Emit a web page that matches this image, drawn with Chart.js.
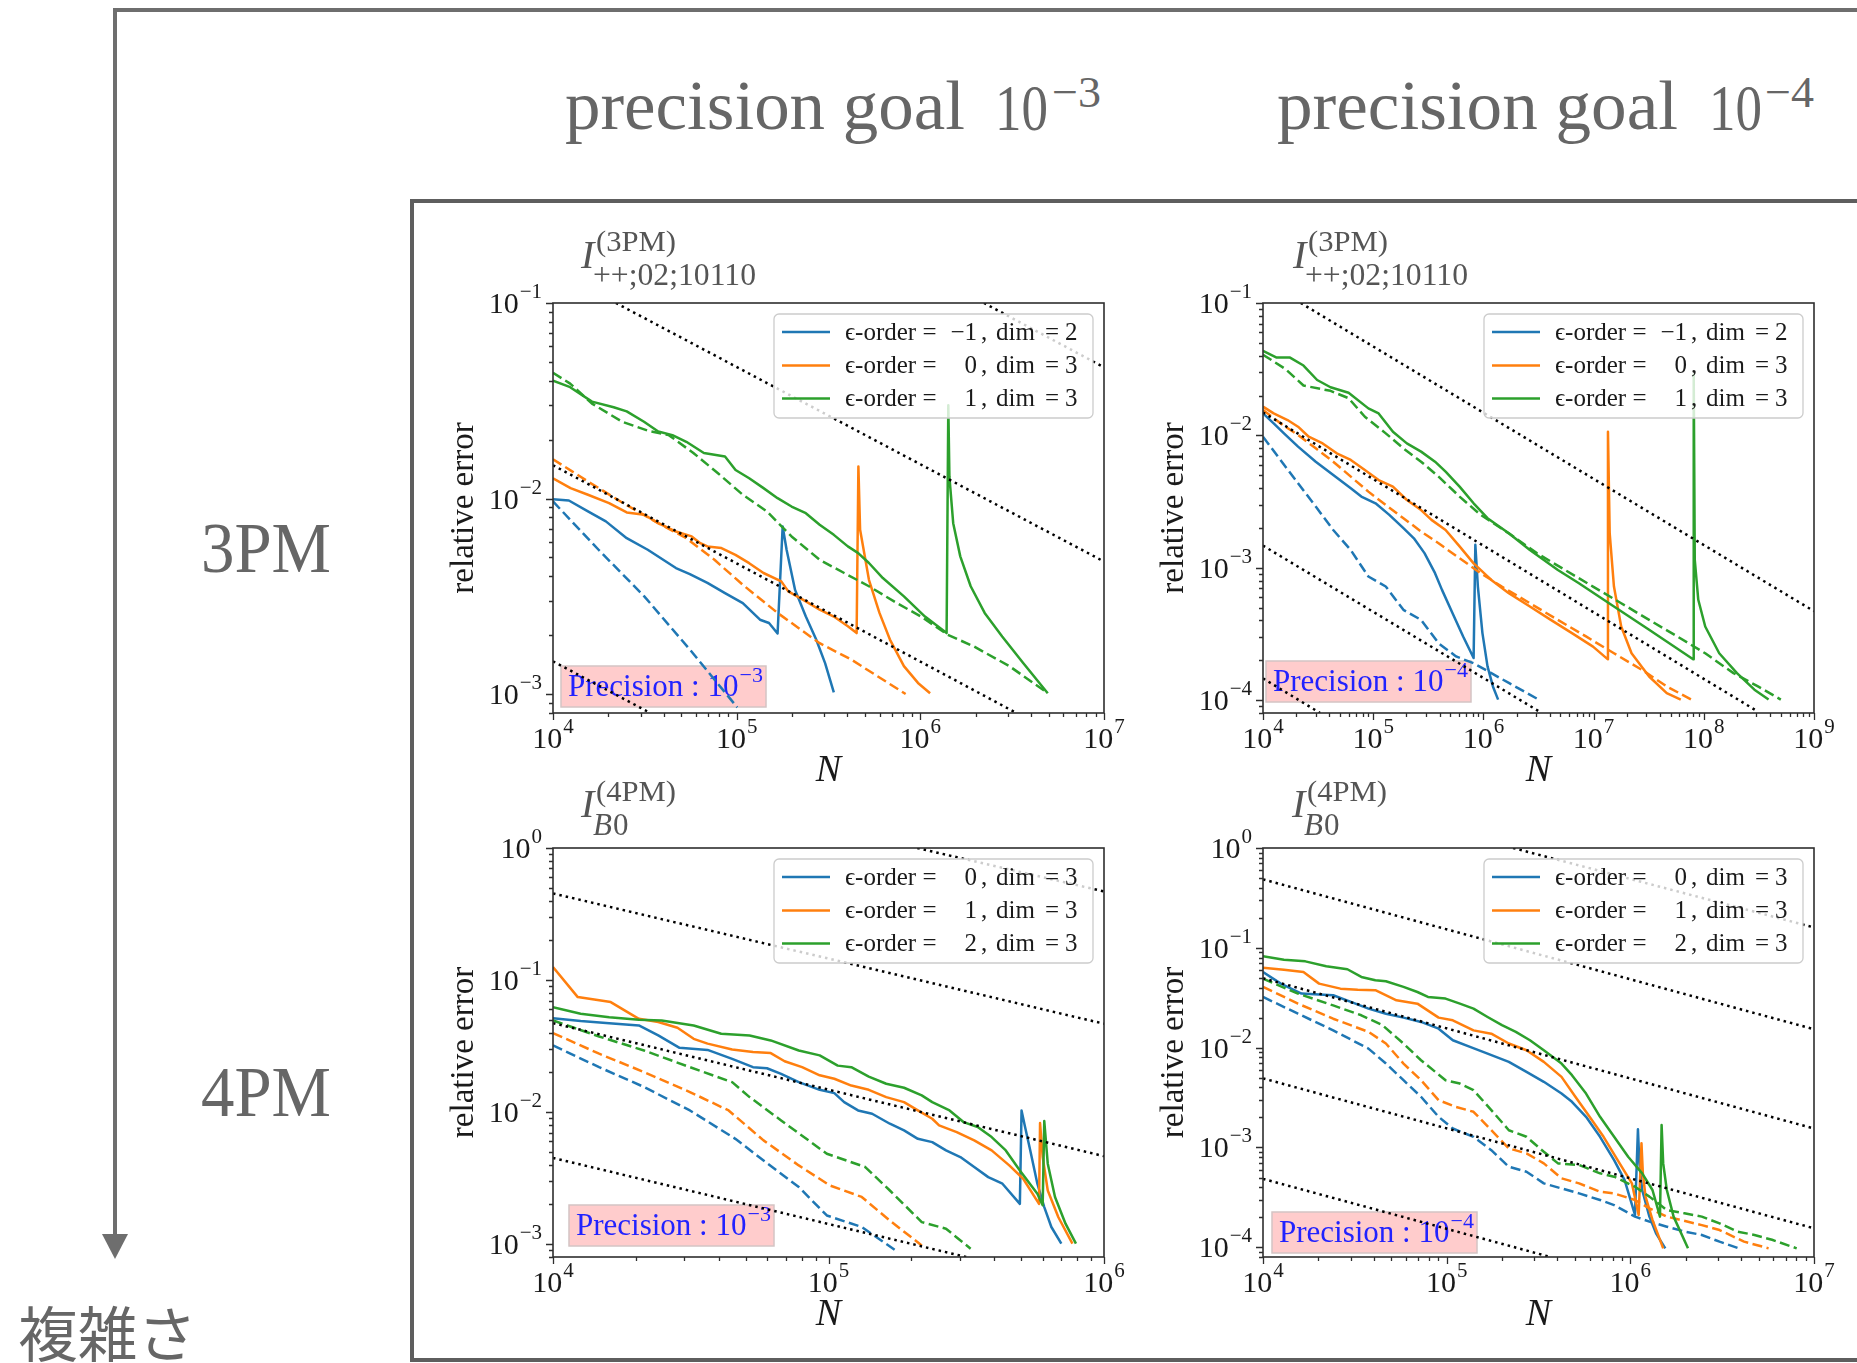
<!DOCTYPE html>
<html>
<head>
<meta charset="utf-8">
<title>precision goal</title>
<script src="https://cdn.jsdelivr.net/npm/chart.js@4.4.1/dist/chart.umd.min.js"></script>
<style>
  html, body { margin: 0; padding: 0; background: #fff; }
  body { position: relative; width: 1857px; height: 1363px; overflow: hidden; }
  .bar { position: absolute; background: #6e6e6e; }
  .txt { position: absolute; white-space: nowrap; transform-origin: 0 0; }
  canvas { position: absolute; }
</style>
</head>
<body>
<div class="bar" style="left:113px;top:8px;width:1744px;height:4px"></div>
<div class="bar" style="left:113px;top:8px;width:4px;height:1232px"></div>
<div style="position:absolute;left:102px;top:1234px;width:0;height:0;border-left:13px solid transparent;border-right:13px solid transparent;border-top:25px solid #6e6e6e"></div>
<div style="position:absolute;left:410px;top:199px;width:1500px;height:1155px;border:4px solid #5e5e5e"></div>

<canvas id="tl" width="690" height="570" style="left:440px;top:225px"></canvas>
<canvas id="tr" width="690" height="570" style="left:1150px;top:225px"></canvas>
<canvas id="bl" width="690" height="569" style="left:440px;top:770px"></canvas>
<canvas id="br" width="690" height="569" style="left:1150px;top:770px"></canvas>

<script>
// ---------- data: [N, relative error] ----------
// 3PM, precision goal 1e-3
const tlBlue = [[1e4,9.93e-3],[1.22e4,9.77e-3],[1.55e4,8.59e-3],[1.94e4,7.64e-3],[2.52e4,6.27e-3],[3.28e4,5.47e-3],[4.67e4,4.41e-3],[5.56e4,4.11e-3],[6.93e4,3.70e-3],[8.64e4,3.28e-3],[1.08e5,2.92e-3],[1.34e5,2.40e-3],[1.50e5,2.31e-3],[1.67e5,2.04e-3],[1.78e5,7.19e-3],[1.87e5,5.47e-3],[2.08e5,3.41e-3],[2.38e5,2.49e-3],[2.71e5,1.90e-3],[3.03e5,1.44e-3],[3.38e5,1.02e-3]];
const tlBlueD = [[1e4,9.66e-3],[1.77e4,5.47e-3],[3.14e4,3.16e-3],[5.56e4,1.69e-3],[1.007e5,8.55e-4]];
const tlOrange = [[1e4,0.0127],[1.246e4,0.0113],[1.55e4,0.01045],[2.02e4,9.47e-3],[2.52e4,8.49e-3],[3.14e4,8.26e-3],[3.74e4,7.49e-3],[4.67e4,6.78e-3],[5.69e4,6.40e-3],[6.34e4,5.91e-3],[6.93e4,5.69e-3],[8.26e4,5.58e-3],[9.85e4,5.15e-3],[1.17e5,4.67e-3],[1.40e5,4.16e-3],[1.75e5,3.77e-3],[1.91e5,3.35e-3],[2.38e5,2.98e-3],[2.83e5,2.70e-3],[3.38e5,2.49e-3],[4.03e5,2.22e-3],[4.50e5,2.05e-3],[4.60e5,0.01459],[4.70e5,6.92e-3],[5.25e5,3.84e-3],[5.99e5,2.60e-3],[6.83e5,1.90e-3],[8.14e5,1.39e-3],[9.71e5,1.14e-3],[1.13e6,1.01e-3]];
const tlOrangeD = [[1e4,0.01589],[1.55e4,0.01222],[2.41e4,9.47e-3],[3.74e4,7.49e-3],[5.32e4,6.27e-3],[7.57e4,4.86e-3],[1.08e5,3.62e-3],[1.67e5,2.60e-3],[2.83e5,1.82e-3],[4.21e5,1.50e-3],[8.32e5,1.00e-3]];
const tlGreen = [[1e4,0.0401],[1.24e4,0.0371],[1.63e4,0.0313],[2.14e4,0.0293],[2.52e4,0.0279],[3.13e4,0.0247],[3.74e4,0.0220],[4.47e4,0.0211],[5.32e4,0.0195],[6.63e4,0.0171],[8.64e4,0.0164],[9.86e4,0.0140],[1.17e5,0.0127],[1.40e5,0.0113],[1.67e5,0.01004],[1.99e5,9.10e-3],[2.38e5,8.41e-3],[2.83e5,7.34e-3],[3.38e5,6.52e-3],[4.03e5,5.69e-3],[4.59e5,5.26e-3],[5.25e5,4.68e-3],[6.25e5,3.92e-3],[8.14e5,3.16e-3],[1.06e6,2.49e-3],[1.39e6,2.05e-3],[1.42e6,0.0300],[1.44e6,0.0129],[1.51e6,7.48e-3],[1.65e6,5.06e-3],[1.88e6,3.56e-3],[2.24e6,2.60e-3],[2.79e6,1.97e-3],[3.63e6,1.44e-3],[4.94e6,1.01e-3]];
const tlGreenD = [[1e4,0.0440],[1.24e4,0.0387],[1.63e4,0.0306],[2.38e4,0.0247],[3.30e4,0.0222],[4.27e4,0.0211],[5.81e4,0.0171],[7.91e4,0.01346],[1.08e5,0.01045],[1.46e5,8.59e-3],[1.99e5,6.40e-3],[2.83e5,4.86e-3],[3.85e5,4.16e-3],[5.25e5,3.56e-3],[7.45e5,2.92e-3],[1.01e6,2.49e-3],[1.41e6,2.01e-3],[1.96e6,1.75e-3],[3.05e6,1.39e-3],[4.94e6,1.01e-3]];
const tlGuides = [[[2.22e6,0.1],[1e7,0.0469]],[[2.2e4,0.1],[1e7,4.76e-3]],[[1e4,0.0148],[3.34e6,8e-4]],[[1e4,1.47e-3],[3.39e4,8e-4]]];

// 3PM, precision goal 1e-4
const trBlue = [[1e4,0.01466],[1.25e4,0.01233],[1.55e4,0.01036],[2.08e4,8.22e-3],[3.01e4,6.33e-3],[4.34e4,5.03e-3],[6.26e4,3.98e-3],[7.80e4,3.45e-3],[1.05e5,3.07e-3],[1.40e5,2.51e-3],[1.88e5,1.99e-3],[2.34e5,1.67e-3],[2.92e5,1.29e-3],[3.64e5,9.10e-4],[4.21e5,6.81e-4],[5.25e5,4.54e-4],[6.55e5,3.03e-4],[8.15e5,2.08e-4],[8.45e5,1.49e-3],[8.91e5,7.21e-4],[9.80e5,3.21e-4],[1.09e6,1.80e-4],[1.22e6,1.27e-4],[1.36e6,1.01e-4]];
const trBlueD = [[1e4,9.77e-3],[1.44e4,6.52e-3],[2.08e4,4.35e-3],[3.01e4,2.90e-3],[4.34e4,1.93e-3],[6.26e4,1.36e-3],[9.04e4,8.59e-4],[1.30e5,7.22e-4],[1.88e5,4.81e-4],[2.72e5,4.04e-4],[3.92e5,2.69e-4],[5.65e5,2.14e-4],[8.15e5,1.90e-4],[1.18e6,1.60e-4],[1.70e6,1.35e-4],[3.17e6,1.01e-4]];
const trOrange = [[1e4,0.01648],[1.25e4,0.01466],[1.67e4,0.01306],[2.08e4,0.01163],[2.60e4,9.77e-3],[3.48e4,8.70e-3],[4.67e4,7.32e-3],[6.26e4,6.52e-3],[8.40e4,5.48e-3],[1.12e5,4.60e-3],[1.51e5,4.10e-3],[2.02e5,3.25e-3],[2.72e5,2.73e-3],[3.38e5,2.30e-3],[4.54e5,1.93e-3],[6.08e5,1.45e-3],[8.15e5,1.08e-3],[1.18e6,8.10e-4],[1.70e6,6.43e-4],[2.64e6,5.10e-4],[4.09e6,4.04e-4],[6.36e6,3.21e-4],[9.88e6,2.54e-4],[1.34e7,2.04e-4],[1.35e7,0.01067],[1.40e7,1.82e-3],[1.53e7,7.21e-4],[1.78e7,3.60e-4],[2.21e7,2.26e-4],[3.19e7,1.51e-4],[4.61e7,1.13e-4],[6.18e7,1.01e-4]];
const trOrangeD = [[1e4,0.01556],[1.44e4,0.01233],[2.08e4,0.01006],[3.01e4,7.98e-3],[4.34e4,6.33e-3],[6.26e4,4.88e-3],[9.04e4,3.76e-3],[1.30e5,2.98e-3],[1.88e5,2.37e-3],[2.72e5,1.88e-3],[3.92e5,1.53e-3],[6.08e5,1.18e-3],[9.44e5,9.10e-4],[1.47e6,7.21e-4],[2.64e6,5.40e-4],[4.74e6,4.04e-4],[8.53e6,3.03e-4],[1.53e7,2.26e-4],[2.76e7,1.69e-4],[4.61e7,1.27e-4],[7.71e7,1.01e-4]];
const trGreen = [[1e4,0.0435],[1.33e4,0.0387],[1.76e4,0.0387],[2.33e4,0.0337],[3.10e4,0.0262],[4.10e4,0.0231],[5.98e4,0.0210],[9.04e4,0.0160],[1.12e5,0.01466],[1.51e5,0.01066],[2.02e5,8.70e-3],[2.72e5,7.54e-3],[3.64e5,6.33e-3],[4.54e5,5.32e-3],[6.08e5,4.10e-3],[8.15e5,3.07e-3],[1.09e6,2.37e-3],[1.70e6,1.82e-3],[2.64e6,1.36e-3],[4.74e6,9.63e-4],[7.36e6,7.64e-4],[1.53e7,5.10e-4],[3.19e7,3.40e-4],[8.00e7,2.04e-4],[8.10e7,0.0288],[8.28e7,1.15e-3],[8.91e7,5.73e-4],[1.03e8,3.60e-4],[1.38e8,2.26e-4],[2.00e8,1.60e-4],[2.88e8,1.20e-4],[3.87e8,1.01e-4]];
const trGreenD = [[1e4,0.0407],[1.60e4,0.0317],[2.33e4,0.0238],[4.10e4,0.0217],[5.98e4,0.0191],[8.40e4,0.01384],[1.30e5,0.01036],[1.88e5,7.98e-3],[2.72e5,6.33e-3],[3.92e5,4.88e-3],[6.08e5,3.45e-3],[9.44e5,2.51e-3],[1.70e6,1.82e-3],[3.05e6,1.29e-3],[5.50e6,9.63e-4],[9.88e6,7.21e-4],[1.78e7,5.40e-4],[3.19e7,4.04e-4],[5.74e7,3.03e-4],[1.03e8,2.26e-4],[1.86e8,1.60e-4],[3.10e8,1.27e-4],[5.00e8,1.01e-4]];
const trGuides = [[[2.2e4,0.1],[1e9,4.7e-4]],[[1e4,0.0149],[3.1e8,8.2e-5]],[[1e4,1.47e-3],[3.3e6,8.1e-5]],[[1e4,1.46e-4],[3.3e4,8.0e-5]]];

// 4PM, precision goal 1e-3
const blBlue = [[1e4,0.0515],[1.26e4,0.0489],[1.60e4,0.0472],[2.05e4,0.0453],[2.41e4,0.0381],[2.88e4,0.0307],[3.64e4,0.0296],[4.47e4,0.0253],[5.32e4,0.0219],[5.98e4,0.0215],[6.73e4,0.0195],[7.80e4,0.01687],[9.29e4,0.01476],[1.05e5,0.01393],[1.14e5,0.01191],[1.28e5,0.01030],[1.44e5,9.72e-3],[1.67e5,8.17e-3],[1.88e5,7.27e-3],[2.11e5,6.28e-3],[2.38e5,5.93e-3],[2.67e5,5.13e-3],[3.01e5,4.57e-3],[3.38e5,3.84e-3],[3.80e5,3.22e-3],[4.28e5,2.87e-3],[4.95e5,2.02e-3],[5.02e5,0.0103],[5.17e5,7.71e-3],[5.40e5,5.13e-3],[5.73e5,2.87e-3],[6.07e5,1.91e-3],[6.44e5,1.35e-3],[7.00e5,1.01e-3]];
const blBlueD = [[1e4,0.0320],[1.47e4,0.0219],[2.14e4,0.0155],[3.14e4,0.0103],[4.59e4,6.28e-3],[5.81e4,4.31e-3],[7.80e4,2.71e-3],[9.86e4,1.65e-3],[1.32e5,1.35e-3],[1.75e5,9.0e-4]];
const blOrange = [[1e4,0.1253],[1.23e4,0.0743],[1.62e4,0.0681],[2.05e4,0.0509],[2.41e4,0.0481],[2.83e4,0.0436],[3.24e4,0.0359],[3.64e4,0.0330],[4.47e4,0.0298],[5.32e4,0.0285],[6.17e4,0.0280],[6.93e4,0.0243],[8.02e4,0.0219],[9.29e4,0.0190],[1.05e5,0.0179],[1.21e5,0.0159],[1.40e5,0.01476],[1.62e5,0.0130],[1.88e5,0.0119],[2.11e5,0.0103],[2.38e5,8.91e-3],[2.52e5,7.93e-3],[2.92e5,7.06e-3],[3.38e5,6.11e-3],[3.91e5,5.13e-3],[4.53e5,3.95e-3],[5.09e5,3.13e-3],[5.81e5,2.02e-3],[5.86e5,8.26e-3],[5.99e5,4.57e-3],[6.25e5,2.55e-3],[6.83e5,1.60e-3],[7.68e5,1.01e-3]];
const blOrangeD = [[1e4,0.0397],[1.47e4,0.0277],[2.14e4,0.0201],[3.14e4,0.0142],[4.34e4,0.0103],[5.81e4,6.11e-3],[7.80e4,3.95e-3],[1.01e5,2.79e-3],[1.32e5,2.28e-3],[1.67e5,1.51e-3],[2.18e5,9.79e-4]];
const blGreen = [[1e4,0.0624],[1.26e4,0.0556],[1.60e4,0.0524],[2.05e4,0.0500],[2.48e4,0.0494],[3.24e4,0.0453],[4.08e4,0.0392],[5.17e4,0.0381],[6.17e4,0.0349],[7.80e4,0.0293],[9.29e4,0.0269],[1.08e5,0.0225],[1.21e5,0.0219],[1.40e5,0.0186],[1.62e5,0.0164],[1.88e5,0.0153],[2.18e5,0.0134],[2.38e5,0.0119],[2.75e5,0.0103],[3.09e5,8.41e-3],[3.48e5,7.71e-3],[3.91e5,6.47e-3],[4.40e5,5.13e-3],[4.95e5,3.62e-3],[5.73e5,2.41e-3],[5.99e5,1.97e-3],[6.07e5,8.55e-3],[6.25e5,4.07e-3],[6.64e5,2.28e-3],[7.25e5,1.43e-3],[7.91e5,1.01e-3]];
const blGreenD = [[1e4,0.0494],[1.47e4,0.0374],[2.14e4,0.0293],[3.14e4,0.0219],[4.47e4,0.01687],[5.17e4,0.0130],[6.73e4,8.65e-3],[9.86e4,4.84e-3],[1.36e5,3.84e-3],[1.67e5,2.55e-3],[2.18e5,1.47e-3],[2.67e5,1.31e-3],[3.28e5,9.25e-4]];
const blGuides = [[[2.1e5,1],[1e6,0.469]],[[1e4,0.453],[1e6,0.0467]],[[1e4,0.0472],[1e6,4.64e-3]],[[1e4,4.5e-3],[3.16e5,8e-4]]];

// 4PM, precision goal 1e-4
const brBlue = [[1e4,0.0573],[1.25e4,0.0438],[1.62e4,0.0348],[2.02e4,0.0340],[2.41e4,0.0335],[3.01e4,0.0287],[3.75e4,0.0246],[4.67e4,0.0219],[5.82e4,0.0200],[7.25e4,0.0181],[9.04e4,0.0155],[1.08e5,0.01186],[1.34e5,0.01018],[1.67e5,8.73e-3],[2.18e5,7.21e-3],[2.72e5,5.73e-3],[3.38e5,4.55e-3],[4.22e5,3.48e-3],[4.81e5,2.87e-3],[5.74e5,2.03e-3],[6.84e5,1.28e-3],[8.16e5,7.48e-4],[9.31e5,4.72e-4],[1.06e6,2.11e-4],[1.10e6,1.52e-3],[1.12e6,6.93e-4],[1.16e6,3.75e-4],[1.27e6,2.03e-4],[1.38e6,1.38e-4],[1.55e6,9.77e-5]];
const brBlueD = [[1e4,0.0322],[1.55e4,0.0219],[2.41e4,0.0149],[3.75e4,9.79e-3],[4.67e4,6.93e-3],[5.82e4,4.72e-3],[7.25e4,3.22e-3],[9.04e4,2.03e-3],[1.08e5,1.55e-3],[1.40e5,1.28e-3],[1.75e5,9.41e-4],[2.18e5,6.41e-4],[2.72e5,5.71e-4],[3.38e5,4.37e-4],[4.22e5,3.89e-4],[5.26e5,3.47e-4],[6.84e5,2.98e-4],[8.16e5,2.65e-4],[1.06e6,2.03e-4],[1.27e6,1.81e-4],[1.58e6,1.61e-4],[1.97e6,1.44e-4],[2.45e6,1.33e-4],[3.06e6,1.14e-4],[3.89e6,9.77e-5]];
const brOrange = [[1e4,0.0632],[1.30e4,0.0604],[1.66e4,0.0573],[2.02e4,0.0438],[2.64e4,0.0390],[3.28e4,0.0381],[4.09e4,0.0376],[5.33e4,0.0298],[6.93e4,0.0276],[9.04e4,0.0200],[1.08e5,0.0188],[1.40e5,0.0149],[1.75e5,0.0138],[2.18e5,0.0110],[2.72e5,9.42e-3],[3.38e5,7.21e-3],[4.22e5,5.10e-3],[5.02e5,3.22e-3],[6.00e5,2.03e-3],[7.15e5,1.28e-3],[8.53e5,7.48e-4],[1.02e6,4.37e-4],[1.11e6,2.11e-4],[1.15e6,1.10e-3],[1.17e6,5.51e-4],[1.21e6,3.22e-4],[1.32e6,1.88e-4],[1.51e6,9.77e-5]];
const brOrangeD = [[1e4,0.0406],[1.55e4,0.0276],[2.41e4,0.0195],[3.75e4,0.0144],[4.67e4,0.0110],[5.82e4,6.93e-3],[7.25e4,4.72e-3],[9.04e4,2.98e-3],[1.12e5,2.55e-3],[1.40e5,2.28e-3],[1.75e5,1.49e-3],[2.18e5,9.79e-4],[2.72e5,8.73e-4],[3.38e5,6.93e-4],[4.22e5,4.91e-4],[5.26e5,4.37e-4],[6.84e5,3.61e-4],[8.16e5,3.47e-4],[1.06e6,2.98e-4],[1.27e6,2.46e-4],[1.58e6,2.03e-4],[2.45e6,1.67e-4],[3.06e6,1.49e-4],[4.16e6,1.14e-4],[5.66e6,9.77e-5]];
const brGreen = [[1e4,0.0822],[1.30e4,0.0761],[1.70e4,0.0732],[2.21e4,0.0653],[2.88e4,0.0610],[3.43e4,0.0511],[4.09e4,0.0473],[4.67e4,0.0462],[5.82e4,0.0406],[6.93e4,0.0361],[7.91e4,0.0322],[9.86e4,0.0310],[1.18e5,0.0276],[1.40e5,0.0246],[1.67e5,0.0203],[2.00e5,0.0168],[2.38e5,0.0144],[2.84e5,0.01186],[3.38e5,9.42e-3],[4.22e5,6.93e-3],[4.81e5,5.30e-3],[5.74e5,3.47e-3],[6.84e5,2.03e-3],[8.16e5,1.28e-3],[9.73e5,8.07e-4],[1.16e6,5.51e-4],[1.32e6,3.75e-4],[1.45e6,2.03e-4],[1.48e6,1.68e-3],[1.51e6,6.93e-4],[1.58e6,3.75e-4],[1.72e6,2.03e-4],[2.06e6,9.77e-5]];
const brGreenD = [[1e4,0.0491],[1.55e4,0.0348],[2.41e4,0.0265],[3.43e4,0.0211],[4.47e4,0.0168],[5.82e4,0.0110],[7.25e4,7.48e-3],[9.86e4,4.72e-3],[1.18e5,4.37e-3],[1.40e5,3.75e-3],[1.75e5,2.37e-3],[2.18e5,1.49e-3],[2.72e5,1.28e-3],[3.38e5,9.06e-4],[4.04e5,6.93e-4],[5.26e5,6.67e-4],[6.84e5,5.51e-4],[8.16e5,5.10e-4],[1.06e6,4.05e-4],[1.27e6,3.22e-4],[1.58e6,2.36e-4],[1.97e6,2.19e-4],[2.45e6,2.03e-4],[3.06e6,1.74e-4],[3.81e6,1.44e-4],[4.74e6,1.33e-4],[5.91e6,1.19e-4],[8.05e6,9.77e-5]];
const brGuides = [[[2.3e5,1],[1e7,0.16]],[[1e4,0.485],[1e7,0.0153]],[[1e4,0.0495],[1e7,1.55e-3]],[[1e4,4.92e-3],[1e7,1.55e-4]],[[1e4,4.85e-4],[3.67e5,8.0e-5]]];

// tick labels (powers of ten) and legend categories
const tlXExp = [4, 5, 6, 7], tlYExp = [-1, -2, -3];
const trXExp = [4, 5, 6, 7, 8, 9], trYExp = [-1, -2, -3, -4];
const blXExp = [4, 5, 6], blYExp = [0, -1, -2, -3];
const brXExp = [4, 5, 6, 7], brYExp = [0, -1, -2, -3, -4];
const orders3PM = ['\u22121', '0', '1'], dims3PM = ['2', '3', '3'];
const orders4PM = ['0', '1', '2'], dims4PM = ['3', '3', '3'];

const FONT = '"Liberation Serif", "DejaVu Serif", serif';
const BLUE = '#1f77b4', ORANGE = '#ff7f0e', GREEN = '#2ca02c';
const GRAY = '#666666';

// "10" with a raised exponent, drawn on the canvas
function drawPow(ctx, x, base, exp, align, size, supSize, lift) {
  const b = '10';
  const s = exp < 0 ? '\u2212' + (-exp) : String(exp);
  ctx.font = size + 'px ' + FONT;
  const wb = ctx.measureText(b).width;
  ctx.font = supSize + 'px ' + FONT;
  const ws = ctx.measureText(s).width;
  const w = wb + 1 + ws;
  const x0 = align === 'right' ? x - w : (align === 'center' ? x - w / 2 : x);
  ctx.textAlign = 'left';
  ctx.textBaseline = 'alphabetic';
  ctx.font = size + 'px ' + FONT;
  ctx.fillText(b, x0, base);
  ctx.font = supSize + 'px ' + FONT;
  ctx.fillText(s, x0 + wb + 1, base - lift);
}

// axes frame, log ticks, legend and the pink precision box
function makeDecor(p) {
  return {
    id: 'decor',
    beforeDatasetsDraw(chart) {
      const { ctx, chartArea: a } = chart;
      const w = 205, h = 41;
      const x0 = a.left + p.box[0], y0 = a.bottom - p.box[1] - h;
      ctx.save();
      ctx.fillStyle = 'rgb(255,204,204)';
      ctx.fillRect(x0, y0, w, h);
      ctx.strokeStyle = 'rgb(212,196,196)';
      ctx.lineWidth = 1.5;
      ctx.strokeRect(x0, y0, w, h);
      ctx.fillStyle = '#2222ff';
      ctx.font = '31px ' + FONT;
      ctx.textAlign = 'left';
      ctx.textBaseline = 'alphabetic';
      const t = 'Precision : ';
      ctx.fillText(t, x0 + 7, y0 + 30);
      const tw = ctx.measureText(t).width;
      drawPow(ctx, x0 + 7 + tw, y0 + 30, -p.goal, 'left', 31, 22, 14);
      ctx.restore();
    },
    afterDatasetsDraw(chart) {
      const { ctx, chartArea: a, scales: { x, y } } = chart;
      ctx.save();
      ctx.setLineDash([]);
      ctx.strokeStyle = '#2e2e2e';
      ctx.lineWidth = 1.6;
      ctx.strokeRect(a.left, a.top, a.right - a.left, a.bottom - a.top);

      ctx.lineWidth = 1.3;
      ctx.beginPath();
      for (let k = Math.floor(Math.log10(x.min)); k <= Math.ceil(Math.log10(x.max)); k++) {
        for (let m = 1; m <= 9; m++) {
          const v = m * Math.pow(10, k);
          if (v < x.min * 0.999 || v > x.max * 1.001) continue;
          const px = Math.round(x.getPixelForValue(v)) + 0.5;
          ctx.moveTo(px, a.bottom);
          ctx.lineTo(px, a.bottom + (m === 1 ? 7 : 4));
        }
      }
      for (let k = Math.floor(Math.log10(y.min)); k <= Math.ceil(Math.log10(y.max)); k++) {
        for (let m = 1; m <= 9; m++) {
          const v = m * Math.pow(10, k);
          if (v < y.min * 0.999 || v > y.max * 1.001) continue;
          const py = Math.round(y.getPixelForValue(v)) + 0.5;
          ctx.moveTo(a.left, py);
          ctx.lineTo(a.left - (m === 1 ? 7 : 4), py);
        }
      }
      ctx.stroke();

      ctx.fillStyle = '#1a1a1a';
      p.xExp.forEach(e => drawPow(ctx, x.getPixelForValue(Math.pow(10, e)), a.bottom + 35, e, 'center', 30, 21, 15));
      p.yExp.forEach(e => drawPow(ctx, a.left - 11, y.getPixelForValue(Math.pow(10, e)) + 10, e, 'right', 30, 21, 15));

      // legend (solid lines only)
      const lw = 319, lh = 104;
      const lx = a.right - 11 - lw, ly = a.top + 11;
      ctx.beginPath();
      ctx.roundRect(lx, ly, lw, lh, 5);
      ctx.fillStyle = 'rgba(255,255,255,0.8)';
      ctx.fill();
      ctx.strokeStyle = '#cccccc';
      ctx.lineWidth = 1.3;
      ctx.stroke();
      const rows = [18, 51.5, 84.5];
      const colors = [BLUE, ORANGE, GREEN];
      ctx.font = '25px ' + FONT;
      ctx.textBaseline = 'middle';
      rows.forEach((r, i) => {
        const yy = ly + r;
        ctx.strokeStyle = colors[i];
        ctx.lineWidth = 2.5;
        ctx.beginPath();
        ctx.moveTo(lx + 8, yy);
        ctx.lineTo(lx + 56, yy);
        ctx.stroke();
        ctx.fillStyle = '#1a1a1a';
        ctx.textAlign = 'left';
        ctx.fillText('\u03f5-order =', lx + 71, yy + 1);
        ctx.textAlign = 'right';
        ctx.fillText(p.orders[i], lx + 203, yy + 1);
        ctx.textAlign = 'left';
        ctx.fillText(',', lx + 207, yy + 1);
        ctx.fillText('dim', lx + 222, yy + 1);
        ctx.fillText('=', lx + 271, yy + 1);
        ctx.fillText(p.dims[i], lx + 291, yy + 1);
      });
      ctx.restore();
    }
  };
}

function line(points, color, dashed) {
  return {
    data: points, borderColor: color, borderWidth: 2.5,
    borderDash: dashed ? [10, 4.5] : [], borderJoinStyle: 'round',
    pointRadius: 0, fill: false, tension: 0
  };
}
function guide(points) {
  return {
    data: points, borderColor: '#000', borderWidth: 2.5,
    borderDash: [2.5, 4], pointRadius: 0, fill: false, tension: 0
  };
}

function makePanel(id, p) {
  const datasets = [];
  p.guides.forEach(g => datasets.push(guide(g)));
  datasets.push(line(p.green, GREEN), line(p.greenD, GREEN, true));
  datasets.push(line(p.orange, ORANGE), line(p.orangeD, ORANGE, true));
  datasets.push(line(p.blue, BLUE), line(p.blueD, BLUE, true));

  new Chart(document.getElementById(id), {
    type: 'line',
    data: { datasets },
    options: {
      responsive: false,
      animation: false,
      events: [],
      layout: { padding: { left: 0, top: 78, right: 26, bottom: 0 } },
      scales: {
        x: {
          type: 'logarithmic', min: p.xMin, max: p.xMax,
          grid: { display: false }, border: { display: false }, ticks: { display: false },
          title: { display: true, text: 'N', color: '#1a1a1a',
                   font: { family: FONT, size: 38, style: 'italic' }, padding: { top: 0, bottom: 1 } },
          afterFit: s => { s.height = 82; }
        },
        y: {
          type: 'logarithmic', min: p.yMin, max: p.yMax,
          grid: { display: false }, border: { display: false }, ticks: { display: false },
          title: { display: true, text: 'relative error', color: '#1a1a1a',
                   font: { family: FONT, size: 33 }, padding: { top: 5, bottom: 0 } },
          afterFit: s => { s.width = 113; }
        }
      },
      plugins: { legend: { display: false }, tooltip: { enabled: false } }
    },
    plugins: [makeDecor(p)]
  });
}

makePanel('tl', { xMin: 1e4, xMax: 1e7, yMin: 8e-4, yMax: 0.1, xExp: tlXExp, yExp: tlYExp,
  blue: tlBlue, blueD: tlBlueD, orange: tlOrange, orangeD: tlOrangeD, green: tlGreen, greenD: tlGreenD,
  guides: tlGuides, orders: orders3PM, dims: dims3PM, goal: 3, box: [8, 6] });
makePanel('tr', { xMin: 1e4, xMax: 1e9, yMin: 8e-5, yMax: 0.1, xExp: trXExp, yExp: trYExp,
  blue: trBlue, blueD: trBlueD, orange: trOrange, orangeD: trOrangeD, green: trGreen, greenD: trGreenD,
  guides: trGuides, orders: orders3PM, dims: dims3PM, goal: 4, box: [3, 11] });
makePanel('bl', { xMin: 1e4, xMax: 1e6, yMin: 8e-4, yMax: 1, xExp: blXExp, yExp: blYExp,
  blue: blBlue, blueD: blBlueD, orange: blOrange, orangeD: blOrangeD, green: blGreen, greenD: blGreenD,
  guides: blGuides, orders: orders4PM, dims: dims4PM, goal: 3, box: [16, 11] });
makePanel('br', { xMin: 1e4, xMax: 1e7, yMin: 8e-5, yMax: 1, xExp: brXExp, yExp: brYExp,
  blue: brBlue, blueD: brBlueD, orange: brOrange, orangeD: brOrangeD, green: brGreen, greenD: brGreenD,
  guides: brGuides, orders: orders4PM, dims: dims4PM, goal: 4, box: [9, 4] });

// ---------- page text (HTML) ----------
function addText(txt, x, base, size, o) {
  o = o || {};
  const el = document.createElement('div');
  el.className = 'txt';
  el.textContent = txt;
  el.style.fontFamily = o.family || FONT;
  el.style.fontSize = size + 'px';
  el.style.fontStyle = o.italic ? 'italic' : 'normal';
  el.style.lineHeight = '1';
  el.style.color = o.color || GRAY;
  el.style.left = x + 'px';
  el.style.top = (base - (o.asc || 0.8375) * size) + 'px';
  document.body.appendChild(el);
  if (o.width) {
    const w = el.getBoundingClientRect().width;
    el.style.transform = 'scaleX(' + (o.width / w).toFixed(4) + ')';
  }
  return el;
}

// column headers
addText('precision goal', 565, 130, 70, { width: 400 });
addText('10', 995, 130, 66, { width: 53 });
addText('\u22123', 1052, 108, 44, { width: 49 });
addText('precision goal', 1277, 130, 70, { width: 401 });
addText('10', 1709, 130, 66, { width: 53 });
addText('\u22124', 1765, 108, 44, { width: 49 });

// row labels and axis caption
addText('3PM', 201, 572, 71, { width: 130 });
addText('4PM', 201, 1116, 71, { width: 130 });
addText('複雑さ', 18, 1357, 60, { family: '"Noto Sans CJK JP", "Noto Sans CJK SC", sans-serif', asc: 0.936, width: 179 });

// panel titles
const TITLE = '#555555';
[[581, 268], [1293, 268]].forEach(([x, b]) => {
  addText('I', x, b, 40, { italic: true, color: TITLE });
  addText('(3PM)', x + 15, b - 17, 30, { color: TITLE, width: 80 });
  addText('++;02;10110', x + 12, b + 17, 31, { color: TITLE, width: 163 });
});
[[581, 817], [1292, 817]].forEach(([x, b]) => {
  addText('I', x, b, 40, { italic: true, color: TITLE });
  addText('(4PM)', x + 15, b - 16, 30, { color: TITLE, width: 80 });
  addText('B', x + 12, b + 18, 31, { italic: true, color: TITLE });
  addText('0', x + 32, b + 18, 31, { color: TITLE });
});
</script>
</body>
</html>
